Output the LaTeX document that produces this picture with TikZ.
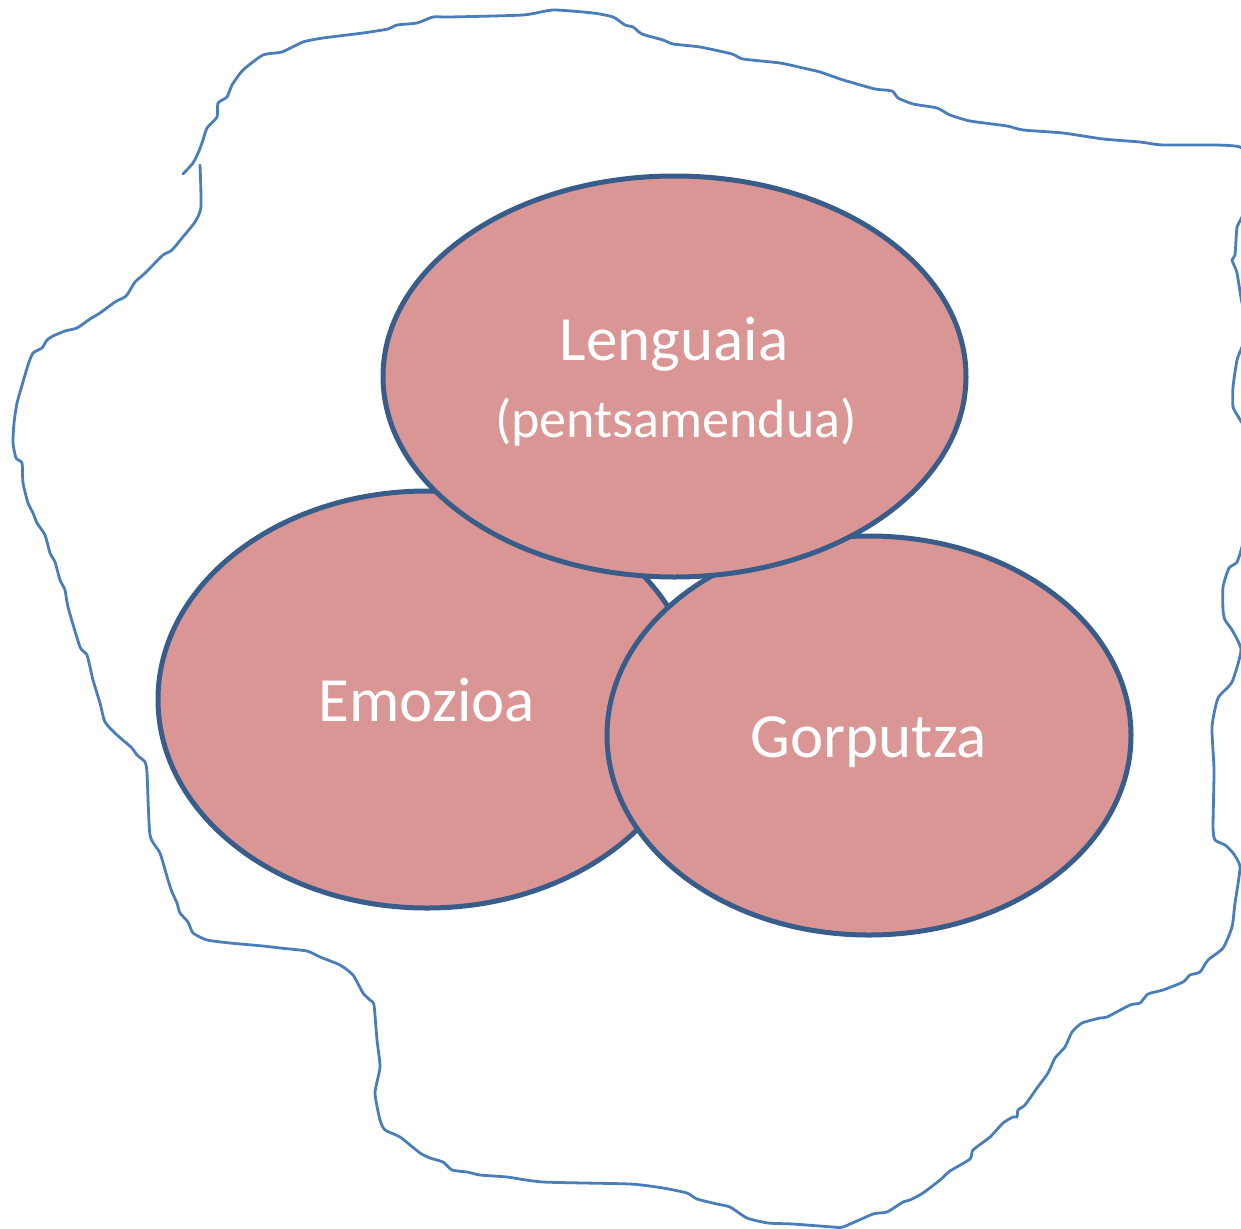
\documentclass[tikz,border=0pt]{standalone}
\usepackage{fontspec}
\setmainfont{Carlito}
\usetikzlibrary{shapes.geometric}
\definecolor{blobblue}{HTML}{4A7EBB}
\definecolor{ellfill}{HTML}{D99694}
\definecolor{elledge}{HTML}{385D8A}
\tikzset{
  bubble/.style={ellipse, draw=elledge, fill=ellfill, line width=5pt, inner sep=0pt},
  lbl/.style={text=white, font=\fontsize{63}{72}\selectfont, anchor=base, inner sep=0pt},
  blob/.style={draw=blobblue, line width=2.8pt, line cap=round, line join=round}
}
\begin{document}
\begin{tikzpicture}[x=1pt,y=-1pt]
\useasboundingbox (0,0) rectangle (1241,1228);
\begin{scope}
\clip (0,0) rectangle (1241,1228);
\draw[blob] plot[smooth, tension=0.35] coordinates {
(200,165) (201,207) (195,222) (182,238) (172,250) (163,255) (153,265) (143,275) (135,282) (127,295) (123,298) (115,302) (100,313) (90,319) (77,328) (65,331) (53,336) (47,340) (42,348) (33,353) (28,365) (23,382) (17,403) (14,423) (13,443) (16,458) (22,463) (23,483) (28,503) (33,513) (37,523) (45,535) (50,553) (55,562) (60,580) (65,590) (68,607) (80,647) (87,655) (93,680) (100,703) (105,722) (117,735) (132,748) (137,755) (145,762) (147,773) (150,835) (160,853) (168,880) (172,892) (177,903) (180,913) (188,922) (193,933) (207,940) (230,943) (263,946) (280,948) (307,951) (320,957) (340,965) (353,975) (363,993) (370,1000) (374,1005) (377,1040) (380,1067) (375,1093) (380,1120) (385,1130) (400,1137) (420,1153) (430,1158) (443,1162) (452,1170) (467,1172) (480,1175) (507,1177) (543,1182) (630,1184) (663,1188) (687,1193) (697,1199) (717,1204) (730,1207) (747,1218) (768,1223) (793,1224) (833,1227) (843,1227) (873,1214) (887,1212) (903,1202) (910,1200) (923,1193) (940,1180) (950,1171) (970,1159) (973,1150) (990,1137) (1003,1123) (1013,1117) (1017,1117) (1018,1110) (1025,1105) (1037,1088) (1048,1073) (1055,1058) (1065,1047) (1072,1032) (1082,1023) (1100,1018) (1107,1017) (1130,1005) (1140,1003) (1148,994) (1163,990) (1183,982) (1190,975) (1200,972) (1208,960) (1223,948) (1232,927) (1235,903) (1240,867) (1233,853) (1225,845) (1215,840) (1213,827) (1214,770) (1212,727) (1218,698) (1232,682) (1241,650) (1232,630) (1225,620) (1223,610) (1223,587) (1229,568) (1237,562) (1243,543) (1252,500) (1250,440) (1239,418) (1233,407) (1233,387) (1237,360) (1242,347) (1250,325) (1242,303) (1237,273) (1232,260) (1235,255) (1237,227) (1242,217) (1255,180) (1240,147) (1163,145) (1140,142) (1103,139) (1063,133) (1023,130) (1007,126) (970,121) (950,115) (937,108) (913,104) (898,98) (892,91) (875,89) (850,82) (840,79) (820,72) (803,68) (780,63) (743,59) (732,54) (700,47) (673,44) (663,40) (642,34) (633,27) (625,25) (613,17) (593,13) (553,10) (523,15) (450,17) (433,17) (417,23) (397,25) (388,29) (363,33) (323,38) (303,42) (282,52) (263,55) (243,70) (232,85) (227,97) (218,103) (217,117) (207,128) (203,140) (199,151) (193,163) (183,174)};
\end{scope}
\node[bubble, minimum width=538pt, minimum height=417pt] (emo) at (427,699.5) {};
\node[bubble, minimum width=524pt, minimum height=399pt] (gor) at (869,735.5) {};
\node[bubble, minimum width=583pt, minimum height=401pt] (len) at (674.5,376.5) {};
\node[lbl] (lenT) at (674,360) {Lenguaia};
\node[lbl, font=\fontsize{54}{62}\selectfont] (penT) at (676,437) {(pentsamendua)};
\node[lbl] (emoT) at (427,721) {Emozioa};
\node[lbl] (gorT) at (869,757) {Gorputza};
\end{tikzpicture}
\end{document}
